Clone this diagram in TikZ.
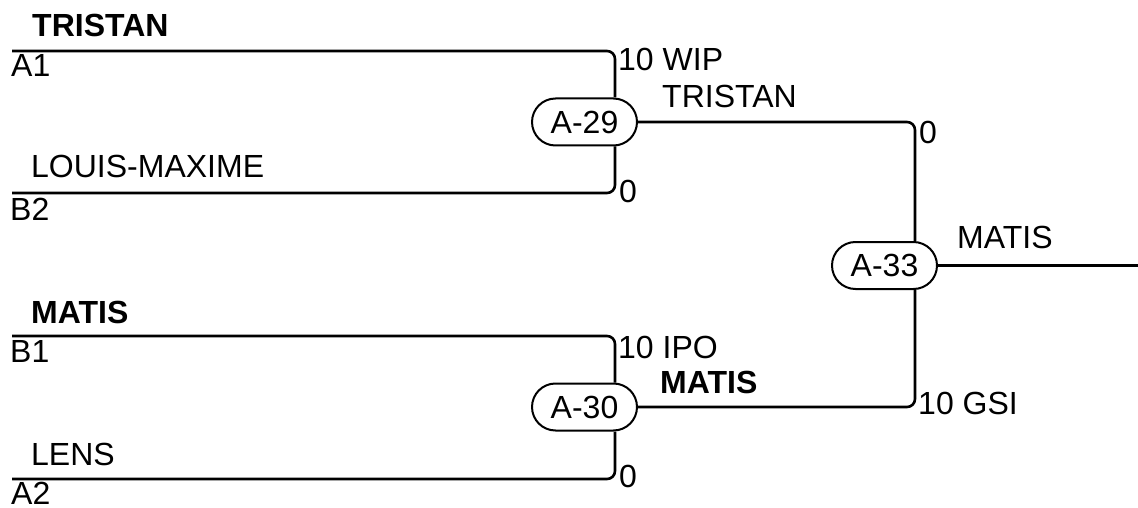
\documentclass[tikz,border=0pt]{standalone}
\usepackage{fontspec}
\setmainfont{Liberation Sans}
\usetikzlibrary{calc}
\begin{document}
\begin{tikzpicture}[x=1pt,y=-1pt,
  every node/.style={font=\fontsize{32}{38}\selectfont},
  lbl/.style={anchor=base west,inner sep=0pt},
  blbl/.style={lbl,font=\fontsize{32}{38}\selectfont\bfseries},
  match/.style={draw,line width=2pt,rounded corners=23.5pt,minimum width=105pt,minimum height=47pt,inner sep=0pt},
  wire/.style={line width=2.6pt,rounded corners=8pt}]
\useasboundingbox (0,0) rectangle (1138,508);
% match nodes
\node[match] (A29) at (584.5,122) {A-29};
\node[match] (A30) at (584.5,407) {A-30};
\node[match] (A33) at (884.5,265.5) {A-33};
% free ends
\coordinate (A1s) at (12,51);
\coordinate (B2s) at (12,193);
\coordinate (B1s) at (12,336);
\coordinate (A2s) at (12,479);
\coordinate (outE) at (1138,265.5);
% connectors
\draw[wire] (A1s) -| ([xshift=30.5pt]A29.north);
\draw[wire] (B2s) -| ([xshift=30.5pt]A29.south);
\draw[wire] (B1s) -| ([xshift=30.5pt]A30.north);
\draw[wire] (A2s) -| ([xshift=30.5pt]A30.south);
\draw[wire] (A29.east) -| ([xshift=30.5pt]A33.north);
\draw[wire] (A30.east) -| ([xshift=30.5pt]A33.south);
\draw[wire] (A33.east) -- (outE);
% left labels
\node[blbl] (tA1) at (32,37) {TRISTAN};
\node[lbl] (sA1) at (11,77) {A1};
\node[lbl] (tB2) at (31,178) {LOUIS-MAXIME};
\node[lbl] (sB2) at (10,220) {B2};
\node[blbl] (tB1) at (31,323) {MATIS};
\node[lbl] (sB1) at (10,362) {B1};
\node[lbl] (tA2) at (31,465) {LENS};
\node[lbl] (sA2) at (11,504) {A2};
% scores and winners
\node[lbl] (s1) at (618,71) {10 WIP};
\node[lbl] (w29) at (662,108) {TRISTAN};
\node[lbl] (s2) at (619,202) {0};
\node[lbl] (s3) at (618,358) {10 IPO};
\node[blbl] (w30) at (660,393) {MATIS};
\node[lbl] (s4) at (619,487) {0};
\node[lbl] (s5) at (919,143) {0};
\node[lbl] (s6) at (918,414) {10 GSI};
\node[lbl] (w33) at (957,248) {MATIS};
\end{tikzpicture}
\end{document}
